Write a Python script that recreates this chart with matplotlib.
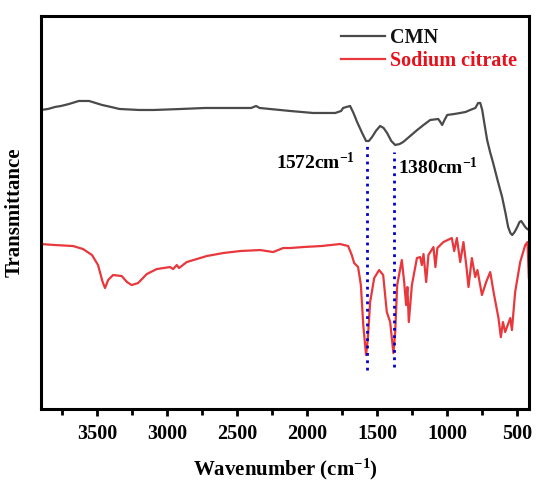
import matplotlib
matplotlib.use("Agg")
import matplotlib.pyplot as plt

plt.rcParams['font.family'] = 'serif'
plt.rcParams['font.serif'] = ['Liberation Serif', 'DejaVu Serif']
plt.rcParams['font.weight'] = 'bold'
plt.rcParams['mathtext.fontset'] = 'custom'
plt.rcParams['mathtext.rm'] = 'Liberation Serif:bold'
plt.rcParams['mathtext.default'] = 'rm'

# FTIR spectra (transmittance in arbitrary units)
cmn_wn = [3900, 3850, 3800, 3757, 3700, 3630, 3557, 3464, 3400, 3340, 3200, 3093,
          2900, 2729, 2486, 2400, 2365, 2340, 2194, 2122, 1958, 1879, 1800, 1758,
          1744, 1720, 1694, 1670, 1644, 1608, 1580, 1560, 1537, 1510, 1480, 1455,
          1430, 1400, 1372, 1340, 1315, 1265, 1215, 1170, 1122, 1065, 1050, 1037,
          1020, 1001, 950, 908, 870, 837, 800, 780, 765, 751, 735, 716, 695, 673,
          640, 609, 585, 566, 550, 537, 520, 501, 485, 473, 458, 444, 430, 415]
cmn_t = [299, 300, 302, 303, 305, 308, 308, 304, 302, 300, 299, 299,
         300, 301, 301, 301, 303, 301, 299, 298, 296, 296, 296, 298,
         301, 302, 303, 296, 287, 276, 268, 268, 272, 278, 283, 281,
         276, 268, 264, 265, 267, 273, 279, 284, 289, 290, 287, 284,
         289, 294, 295, 296, 297, 299, 301, 306, 306, 299, 285, 269, 257, 246,
         228, 212, 196, 182, 176, 174, 177, 182, 187, 188, 185, 182, 180, 179]

cit_wn = [3900, 3800, 3671, 3600, 3536, 3493, 3460, 3443, 3421, 3386, 3324, 3286, 3253,
          3207, 3145, 3074, 2979, 2957, 2931, 2915, 2860, 2717, 2600, 2479, 2336, 2243,
          2172, 2122, 2029, 1900, 1765, 1708, 1682, 1665, 1637, 1617, 1600, 1580, 1567,
          1551, 1522, 1487, 1458, 1432, 1408, 1385, 1372, 1358, 1325, 1308, 1294,
          1285, 1275, 1253, 1217, 1194, 1182, 1170, 1151, 1135, 1099, 1085, 1071,
          1028, 968, 951, 932, 908, 885, 865, 849, 825, 801, 785, 753, 723, 694,
          670, 635, 618, 603, 587, 551, 539, 516, 480, 444, 428, 418]
cit_t = [165, 164, 163, 160, 154, 144, 127, 121, 129, 134, 133, 127, 124,
         126, 135, 140, 142, 140, 144, 141, 147, 153, 156, 158, 159, 157,
         161, 161, 162, 163, 165, 163, 154, 146, 142, 124, 84, 54, 71,
         107, 131, 139, 134, 97, 87, 56, 77, 124, 149, 127, 104,
         122, 87, 124, 151, 152, 144, 155, 127, 154, 162, 142, 161,
         167, 171, 158, 171, 147, 167, 144, 122, 151, 132, 139, 114, 127, 137,
         117, 91, 72, 87, 77, 91, 79, 117, 147, 164, 167, 131]

peaks = [1572, 1380]
peak_labels = ['1572cm$^{-1}$', '1380cm$^{-1}$']
peak_top = [266, 257]
peak_bottom = [39, 42]

fig = plt.figure(figsize=(5.36, 4.83), dpi=100)
ax = fig.add_axes([0.0765, 0.153, 0.911, 0.814])

ax.plot(cmn_wn, cmn_t, color='#4a4a4a', lw=1.6, label='CMN')
ax.plot(cit_wn, cit_t, color='#e8383d', lw=1.6, label='Sodium citrate')

for p, top, bot in zip(peaks, peak_top, peak_bottom):
    ax.vlines(p, bot, top, colors='#0000cc', linestyles=':', lw=2)

ax.text(1658, 246, peak_labels[0], ha='right', va='center', fontsize=14, fontweight='bold')
ax.text(1351, 242, peak_labels[1], ha='left', va='center', fontsize=14, fontweight='bold')

ax.set_xlim(3900, 415)
ax.set_ylim(0, 393)
ax.set_xticks([3500, 3000, 2500, 2000, 1500, 1000, 500])
ax.set_xticks([3750, 3250, 2750, 2250, 1750, 1250, 750], minor=True)
ax.set_yticks([])
ax.tick_params(axis='x', which='major', direction='out', length=5, width=2, labelsize=14.5, pad=6)
ax.tick_params(axis='x', which='minor', direction='out', length=4, width=2)
for s in ax.spines.values():
    s.set_linewidth(2.2)

ax.set_xlabel('Wavenumber (cm$^{-1}$)', fontsize=15, fontweight='bold', labelpad=9)
ax.set_ylabel('Transmittance', fontsize=15, fontweight='bold', labelpad=12)

leg = ax.legend(loc='upper right', frameon=False, fontsize=14.5, handlelength=2.2,
                handletextpad=0.25, labelspacing=0.15, borderaxespad=0.2)
for txt, c in zip(leg.get_texts(), ['#111111', '#e8101a']):
    txt.set_color(c)

plt.savefig('out.png', dpi=100)
